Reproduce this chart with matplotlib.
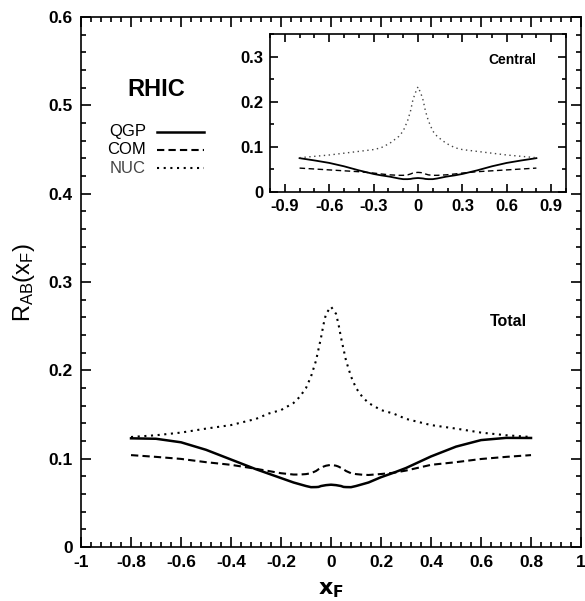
import numpy as np
import matplotlib
matplotlib.use("Agg")
import matplotlib.pyplot as plt
from matplotlib.ticker import MultipleLocator

plt.rcParams['font.family'] = ['Liberation Sans', 'DejaVu Sans']

# total (main panel)
xf_tot = [-0.8, -0.7, -0.6, -0.5, -0.4, -0.3, -0.25, -0.2, -0.15, -0.125, -0.1, -0.08, -0.06, -0.05, -0.04,
          -0.03, -0.02, 0.0, 0.02, 0.03, 0.04, 0.05, 0.06, 0.08, 0.1, 0.125, 0.15, 0.2, 0.25, 0.3, 0.4,
          0.5, 0.6, 0.7, 0.8]
qgp_tot = [0.123, 0.1225, 0.1185, 0.110, 0.099, 0.088, 0.083, 0.078, 0.073, 0.071, 0.069, 0.0677, 0.0678,
           0.068, 0.069, 0.0695, 0.070, 0.0705, 0.070, 0.0695, 0.069, 0.068, 0.0678, 0.0677, 0.069, 0.071,
           0.073, 0.079, 0.084, 0.0894, 0.1025, 0.1136, 0.121, 0.1235, 0.1234]
com_tot = [0.104, 0.102, 0.0997, 0.096, 0.093, 0.0885, 0.086, 0.0835, 0.082, 0.082, 0.0825, 0.0835, 0.086,
           0.088, 0.0895, 0.091, 0.092, 0.093, 0.092, 0.091, 0.0895, 0.088, 0.086, 0.0835, 0.0825, 0.0818,
           0.0815, 0.0826, 0.084, 0.0865, 0.093, 0.096, 0.0996, 0.102, 0.104]
nuc_tot = [0.1245, 0.1265, 0.1295, 0.134, 0.138, 0.145, 0.151, 0.155, 0.163, 0.170, 0.180, 0.193, 0.211,
           0.224, 0.237, 0.252, 0.264, 0.272, 0.264, 0.252, 0.237, 0.224, 0.211, 0.193, 0.180, 0.170,
           0.163, 0.155, 0.151, 0.145, 0.138, 0.134, 0.1295, 0.1265, 0.1245]

# central (inset)
xf_cen = [-0.8, -0.7, -0.6, -0.5, -0.4, -0.3, -0.25, -0.19, -0.13, -0.1, -0.07, -0.05, -0.035, -0.02, 0.0,
          0.02, 0.035, 0.05, 0.07, 0.1, 0.13, 0.19, 0.25, 0.3, 0.4, 0.5, 0.6, 0.7, 0.8]
nuc_cen = [0.076, 0.079, 0.082, 0.086, 0.090, 0.094, 0.098, 0.108, 0.123, 0.135, 0.158, 0.180, 0.203, 0.218, 0.233,
           0.218, 0.203, 0.180, 0.158, 0.135, 0.123, 0.108, 0.098, 0.094, 0.090, 0.086, 0.082, 0.079, 0.076]
qgp_cen = [0.075, 0.070, 0.0645, 0.057, 0.048, 0.040, 0.037, 0.034, 0.030, 0.0285, 0.0285, 0.029, 0.030, 0.0305, 0.031,
           0.0305, 0.030, 0.029, 0.0285, 0.0285, 0.030, 0.034, 0.037, 0.040, 0.048, 0.057, 0.0645, 0.070, 0.075]
com_cen = [0.053, 0.051, 0.049, 0.047, 0.045, 0.042, 0.040, 0.038, 0.037, 0.037, 0.038, 0.040, 0.042, 0.043, 0.0435,
           0.043, 0.042, 0.040, 0.038, 0.037, 0.037, 0.038, 0.040, 0.042, 0.045, 0.047, 0.049, 0.051, 0.053]

labels = ['QGP', 'COM', 'NUC']

fig = plt.figure(figsize=(5.85, 6.01), dpi=100)
ax = fig.add_axes([0.1385, 0.0899, 0.8547, 0.8818])

ax.plot(xf_tot, qgp_tot, 'k-', lw=1.8)
ax.plot(xf_tot, com_tot, 'k--', lw=1.5, dashes=(3.5, 2))
ax.plot(xf_tot, nuc_tot, 'k:', lw=1.5, dashes=(1, 2.2))
ax.set_xlim(-1, 1)
ax.set_ylim(0, 0.6)
ax.xaxis.set_minor_locator(MultipleLocator(0.04))
ax.yaxis.set_minor_locator(MultipleLocator(0.02))
ax.set_xticks(np.arange(-1, 1.01, 0.2))
ax.set_xticklabels(['-1', '-0.8', '-0.6', '-0.4', '-0.2', '0', '0.2', '0.4', '0.6', '0.8', '1'])
ax.set_yticks(np.arange(0, 0.61, 0.1))
ax.set_yticklabels(['0', '0.1', '0.2', '0.3', '0.4', '0.5', '0.6'])
ax.tick_params(which='both', direction='in', top=True, right=True, width=1.2)
ax.tick_params(which='major', length=7, labelsize=12.5, pad=6)
ax.tick_params(which='minor', length=3.5)
for lab in ax.get_xticklabels() + ax.get_yticklabels():
    lab.set_fontweight('bold')
for s in ax.spines.values():
    s.set_linewidth(1.2)

ax.set_xlabel(r'$\mathbf{x_F}$', fontsize=16, labelpad=6)
ax.set_ylabel(r'$\mathregular{R_{AB}(x_F)}$', fontsize=17, labelpad=8)

ax.text(-0.70, 0.518, 'RHIC', fontsize=17, fontweight='bold', ha='center', va='center')
ax.text(0.71, 0.255, 'Total', fontsize=11.5, fontweight='bold', ha='center', va='center')

# legend drawn by hand in data coords
leg_y = [0.470, 0.4496, 0.429]
styles = [dict(ls='-', lw=1.8), dict(ls='--', lw=1.5, dashes=(3.5, 2)), dict(ls=':', lw=1.5, dashes=(1, 2.2))]
colors = ['black', 'black', '#444444']
for lab, yy, st, c in zip(labels, leg_y, styles, colors):
    ax.text(-0.74, yy, lab, fontsize=12, ha='right', va='center', color=c)
    ax.plot([-0.697, -0.508], [yy, yy], color='k', **st)

ins = fig.add_axes([0.4615, 0.6805, 0.506, 0.2629])
ins.plot(xf_cen, qgp_cen, 'k-', lw=1.3)
ins.plot(xf_cen, com_cen, 'k--', lw=1.0, dashes=(4, 2.5))
ins.plot(xf_cen, nuc_cen, ':', lw=1.0, dashes=(1, 2.5), color='#444444')
ins.set_xlim(-1, 1)
ins.set_ylim(0, 0.35)
ins.set_xticks([-0.9, -0.6, -0.3, 0, 0.3, 0.6, 0.9])
ins.set_xticklabels(['-0.9', '-0.6', '-0.3', '0', '0.3', '0.6', '0.9'])
ins.xaxis.set_minor_locator(MultipleLocator(0.1))
ins.set_yticks([0, 0.1, 0.2, 0.3])
ins.set_yticklabels(['0', '0.1', '0.2', '0.3'])
ins.yaxis.set_minor_locator(MultipleLocator(0.05))
ins.tick_params(which='both', direction='in', top=True, right=True, width=1.2)
ins.tick_params(which='major', length=6, labelsize=12, pad=5)
ins.tick_params(which='minor', length=3)
for lab in ins.get_xticklabels() + ins.get_yticklabels():
    lab.set_fontweight('bold')
for s in ins.spines.values():
    s.set_linewidth(1.2)
ins.text(0.64, 0.293, 'Central', fontsize=10, fontweight='bold', ha='center', va='center')

fig.savefig('out.png', dpi=100)
